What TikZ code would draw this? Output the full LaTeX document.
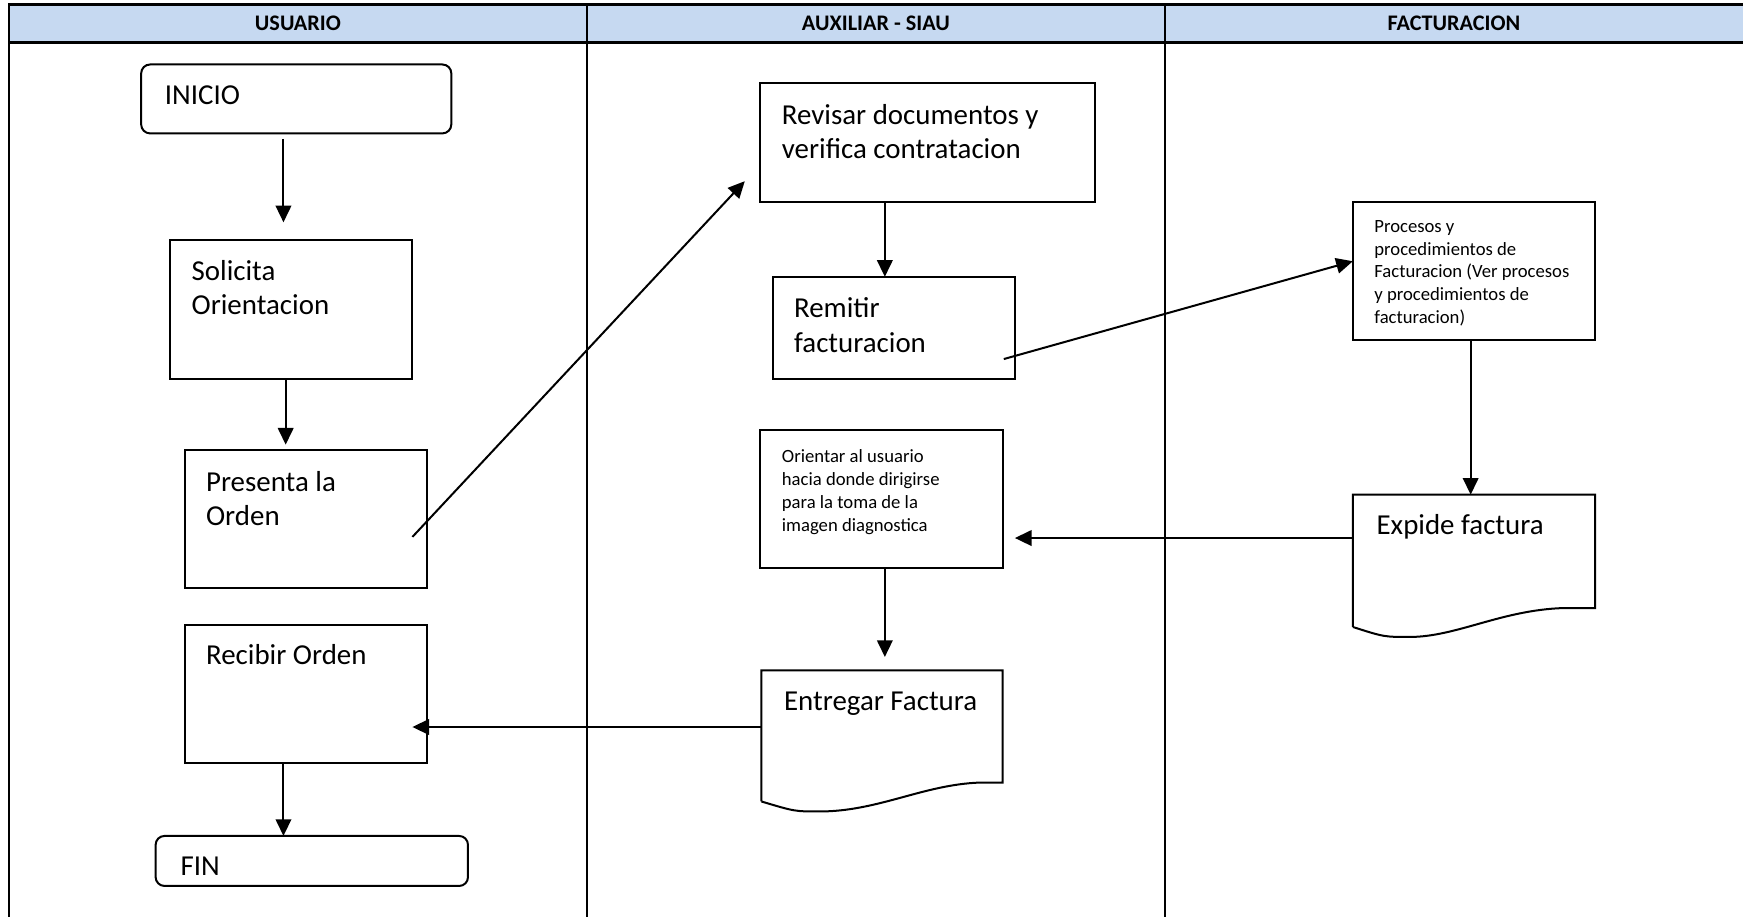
\documentclass[tikz,border=0pt]{standalone}
\usepackage{fontspec}
\setmainfont{Carlito}
\usetikzlibrary{arrows.meta,calc}
\definecolor{hdrblue}{RGB}{198,217,241}
\tikzset{
  tbl/.style={line width=1.2pt},
  box/.style={draw, line width=0.9pt, anchor=north west, inner sep=0pt, outer sep=0pt},
  rbox/.style={box, rounded corners=4pt},
  docanchor/.style={anchor=north west, inner sep=0pt, outer sep=0pt},
  docline/.style={line width=0.9pt},
  big/.style={font=\fontsize{13}{15.5}\selectfont, anchor=base west, align=left, inner sep=0pt},
  small/.style={font=\fontsize{8.4}{10.25}\selectfont, anchor=base west, align=left, inner sep=0pt},
  hdr/.style={font=\bfseries\fontsize{10}{12}\selectfont, inner sep=0pt},
  arr/.style={line width=0.9pt, -{Triangle[length=7.5pt,width=7pt]}},
}
\begin{document}
\begin{tikzpicture}[x=0.5pt,y=-0.5pt]
\useasboundingbox (0,0) rectangle (1568,825);
% table
\fill[hdrblue] (8,4) rectangle (1568,38);
\draw[tbl] (1568,4) -- (8,4) -- (8,825);
\draw[tbl] (8,38) -- (1568,38);
\draw[tbl] (528,4) -- (528,825);
\draw[tbl] (1048,4) -- (1048,825);
\node[hdr] (h1) at (268,21) {USUARIO};
\node[hdr] (h2) at (788,21) {AUXILIAR - SIAU};
\node[hdr] (h3) at (1308,21) {FACTURACION};
% boxes
\node[rbox, minimum width=139.5pt, minimum height=31pt] (inicio) at (127,58) {};
\node[box, minimum width=109pt, minimum height=62.5pt] (solicita) at (153,216) {};
\node[box, minimum width=109pt, minimum height=62pt] (presenta) at (166,405) {};
\node[box, minimum width=109pt, minimum height=62pt] (recibir) at (166,562) {};
\node[rbox, minimum width=140.5pt, minimum height=22.5pt] (fin) at (140,752) {};
\node[box, minimum width=150.5pt, minimum height=53.5pt] (revisar) at (684,75) {};
\node[box, minimum width=109pt, minimum height=46pt] (remitir) at (695,249) {};
\node[box, minimum width=109pt, minimum height=62pt] (orientar) at (684,387) {};
\node[docanchor, minimum width=108.5pt, minimum height=50.5pt] (entregar) at (685,603) {};
\node[box, minimum width=109pt, minimum height=62pt] (procesos) at (1217,182) {};
\node[docanchor, minimum width=109pt, minimum height=51pt] (expide) at (1217,445) {};
% document outlines
\draw[docline] (685,721) -- (685,603) -- (902,603) -- (902,704) -- (881,704)
  .. controls (830,706) and (790,730) .. (737,730) .. controls (715,730) .. (685,721);
\draw[docline] (1217,564) -- (1217,445) -- (1435,445) -- (1435,547) -- (1406,547)
  .. controls (1350,549) and (1310,573) .. (1268,573) .. controls (1245,573) .. (1217,564);
% texts (base anchor = baseline of the last line)
\node[big] (t1) at (148,94) {INICIO};
\node[big] (t2) at (172,283) {Solicita\\Orientacion};
\node[big] (t3) at (185,473) {Presenta la\\Orden};
\node[big] (t4) at (185,598) {Recibir Orden};
\node[big] (t5) at (162,788) {FIN};
\node[big] (t6) at (703,143) {Revisar documentos y\\verifica contratacion};
\node[big] (t7) at (714,317) {Remitir\\facturacion};
\node[small] (t8) at (703,478) {Orientar al usuario\\hacia donde dirigirse\\para la toma de la\\imagen diagnostica};
\node[big] (t9) at (705,639) {Entregar Factura};
\node[small] (t10) at (1236,291) {Procesos y\\procedimientos de\\Facturacion (Ver procesos\\y procedimientos de\\facturacion)};
\node[big] (t11) at (1238,481) {Expide factura};
% connectors
\draw[arr] ($(inicio.south west)+(128,5)$) -- ($(solicita.north west)+(102,-16)$);
\draw[arr] ($(solicita.south west)+(104,0)$) -- ($(presenta.north west)+(91,-5)$);
\draw[arr] ($(presenta.north west)+(205,78)$) -- ($(revisar.south west)+(-14,-19)$);
\draw[arr] ($(revisar.south west)+(112,1)$) -- ($(remitir.north west)+(101,0)$);
\draw[arr] ($(remitir.north west)+(208,74)$) -- ($(procesos.north west)+(0,53)$);
\draw[arr] ($(procesos.south west)+(106,0)$) -- ($(expide.north west)+(106,0)$);
\draw[arr] ($(expide.north west)+(0,39)$) -- ($(orientar.north east)+(11,97)$);
\draw[arr] ($(orientar.south west)+(112,0)$) -- ($(entregar.north west)+(111,-12)$);
\draw[arr] ($(entregar.north west)+(0,51)$) -- ($(recibir.north east)+(-13,92)$);
\draw[arr] ($(recibir.south west)+(89,0)$) -- ($(fin.north west)+(115,0)$);
\end{tikzpicture}
\end{document}
